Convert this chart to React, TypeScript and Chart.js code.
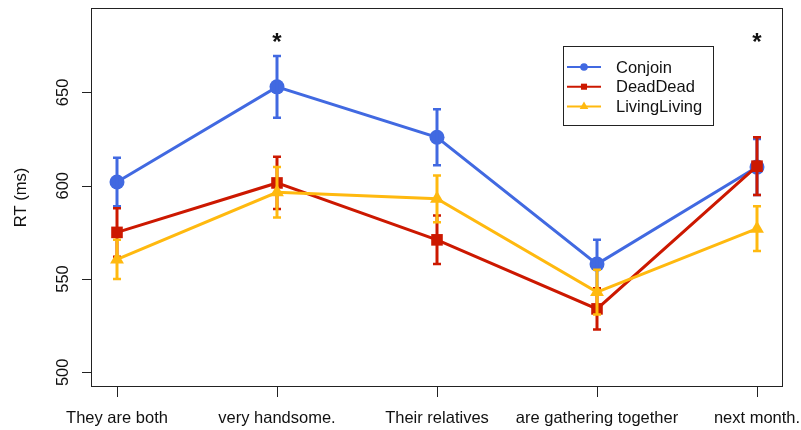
import React, { useEffect, useRef } from "react";
import { Chart, registerables } from "chart.js";

Chart.register(...registerables);

// Sentence regions along the x axis
const categories = [
  "They are both",
  "very handsome.",
  "Their relatives",
  "are gathering together",
  "next month.",
];

// Mean reaction times (ms) and their standard errors per condition
const conjoinRT = [602, 653, 626, 558, 610];
const conjoinSE = [13, 16.5, 15, 13, 15];
const deadDeadRT = [575, 601.5, 571, 534, 610.5];
const deadDeadSE = [13, 14, 13, 11, 15.5];
const livingLivingRT = [560.5, 596.5, 593, 543, 577];
const livingLivingSE = [10.5, 13.5, 12.5, 12, 12];

const yTicks = [500, 550, 600, 650];

// Regions marked as significant, and the height of the marker
const starRegions = [1, 4];
const starValue = 673;

const FONT = '"Liberation Sans", Arial, Helvetica, sans-serif';
const INK = "#111";

const series = [
  { label: "Conjoin", values: conjoinRT, se: conjoinSE, color: "#4169E1", style: "circle", radius: 7.5, legendRadius: 3.8, order: 3 },
  { label: "DeadDead", values: deadDeadRT, se: deadDeadSE, color: "#CC1800", style: "rect", radius: 8.2, legendRadius: 4.3, order: 2 },
  { label: "LivingLiving", values: livingLivingRT, se: livingLivingSE, color: "#FFB90F", style: "triangle", radius: 8, legendRadius: 5, order: 1 },
];

const errorBarPlugin = {
  id: "errorBars",
  afterDatasetDraw(chart: any, args: any) {
    const s = series[args.index];
    if (!s) return;
    const { ctx, scales } = chart;
    const xs = scales.x;
    const ys = scales.y;
    ctx.save();
    ctx.strokeStyle = s.color;
    ctx.lineCap = "butt";
    s.values.forEach((v: number, i: number) => {
      const x = xs.getPixelForValue(i);
      const yTop = ys.getPixelForValue(v + s.se[i]);
      const yBot = ys.getPixelForValue(v - s.se[i]);
      ctx.lineWidth = 3;
      ctx.beginPath();
      ctx.moveTo(x, yTop);
      ctx.lineTo(x, yBot);
      ctx.stroke();
      ctx.lineWidth = 2.5;
      ctx.beginPath();
      ctx.moveTo(x - 4, yTop);
      ctx.lineTo(x + 4, yTop);
      ctx.moveTo(x - 4, yBot);
      ctx.lineTo(x + 4, yBot);
      ctx.stroke();
    });
    ctx.restore();
  },
};

const frameplugin = {
  id: "rFrame",
  afterDraw(chart: any) {
    const { ctx, scales } = chart;
    const xs = scales.x;
    const ys = scales.y;
    ctx.save();

    // plot box
    ctx.strokeStyle = "#222";
    ctx.lineWidth = 1;
    ctx.strokeRect(91.5, 8.5, 691, 378);

    // x ticks and labels
    ctx.fillStyle = INK;
    ctx.font = `16.5px ${FONT}`;
    ctx.textAlign = "center";
    ctx.textBaseline = "alphabetic";
    categories.forEach((c, i) => {
      const x = Math.round(xs.getPixelForValue(i)) + 0.5;
      ctx.beginPath();
      ctx.moveTo(x, 387);
      ctx.lineTo(x, 397);
      ctx.stroke();
      ctx.fillText(c, xs.getPixelForValue(i), 422.5);
    });

    // y ticks and rotated labels
    yTicks.forEach((t) => {
      const y = Math.round(ys.getPixelForValue(t)) + 0.5;
      ctx.beginPath();
      ctx.moveTo(82, y);
      ctx.lineTo(92, y);
      ctx.stroke();
      ctx.save();
      ctx.translate(68.3, ys.getPixelForValue(t));
      ctx.rotate(-Math.PI / 2);
      ctx.fillText(String(t), 0, 0);
      ctx.restore();
    });

    // y title
    ctx.save();
    ctx.translate(25.5, (8 + 387) / 2);
    ctx.rotate(-Math.PI / 2);
    ctx.fillText("RT (ms)", 0, 0);
    ctx.restore();

    // significance markers
    ctx.font = `bold 24px ${FONT}`;
    starRegions.forEach((i) => {
      ctx.fillText("*", xs.getPixelForValue(i), ys.getPixelForValue(starValue));
    });

    // legend
    ctx.lineWidth = 1;
    ctx.strokeStyle = "#222";
    ctx.strokeRect(563.5, 46.5, 150, 79);
    ctx.font = `16.5px ${FONT}`;
    ctx.textAlign = "left";
    ctx.textBaseline = "middle";
    series.forEach((s, k) => {
      const y = 67 + k * 19.7;
      ctx.strokeStyle = s.color;
      ctx.lineWidth = 2;
      ctx.beginPath();
      ctx.moveTo(567, y);
      ctx.lineTo(601, y);
      ctx.stroke();
      ctx.fillStyle = s.color;
      const r = s.legendRadius;
      ctx.beginPath();
      if (s.style === "circle") {
        ctx.arc(584, y, r, 0, Math.PI * 2);
      } else if (s.style === "rect") {
        ctx.rect(584 - r * Math.SQRT1_2, y - r * Math.SQRT1_2, 2 * r * Math.SQRT1_2, 2 * r * Math.SQRT1_2);
      } else {
        ctx.moveTo(584, y - r);
        ctx.lineTo(584 + r * 0.866, y + r * 0.5);
        ctx.lineTo(584 - r * 0.866, y + r * 0.5);
        ctx.closePath();
      }
      ctx.fill();
      ctx.fillStyle = INK;
      ctx.fillText(s.label, 616, y + 1);
    });

    ctx.restore();
  },
};

export default function App() {
  const canvasRef = useRef<HTMLCanvasElement | null>(null);

  useEffect(() => {
    const canvas = canvasRef.current;
    if (!canvas) return;
    const chart = new Chart(canvas, {
      type: "line",
      data: {
        datasets: series.map((s) => ({
          label: s.label,
          data: s.values.map((v, i) => ({ x: i, y: v })),
          borderColor: s.color,
          backgroundColor: s.color,
          borderWidth: 3,
          tension: 0,
          pointStyle: s.style as any,
          pointRadius: s.radius,
          pointBackgroundColor: s.color,
          pointBorderWidth: 0,
          pointHoverRadius: s.radius,
          order: s.order,
          clip: false as any,
        })),
      },
      options: {
        animation: false,
        responsive: false,
        events: [],
        layout: { padding: { left: 0, right: 18, top: 8, bottom: 0 } },
        plugins: {
          legend: { display: false },
          tooltip: { enabled: false },
        },
        scales: {
          x: {
            type: "linear",
            min: -0.15625,
            max: 4.1625,
            grid: { display: false },
            border: { display: false },
            ticks: { display: false },
            afterFit: (s: any) => {
              s.height = 43;
            },
          },
          y: {
            type: "linear",
            min: 492.13,
            max: 695.16,
            grid: { display: false },
            border: { display: false },
            ticks: { display: false },
            afterFit: (s: any) => {
              s.width = 92;
            },
          },
        },
      },
      plugins: [errorBarPlugin, frameplugin],
    });
    return () => chart.destroy();
  }, []);

  return (
    <div style={{ position: "fixed", left: 0, top: 0, width: 801, height: 430, background: "#fff" }}>
      <canvas ref={canvasRef} width={801} height={430} />
    </div>
  );
}
